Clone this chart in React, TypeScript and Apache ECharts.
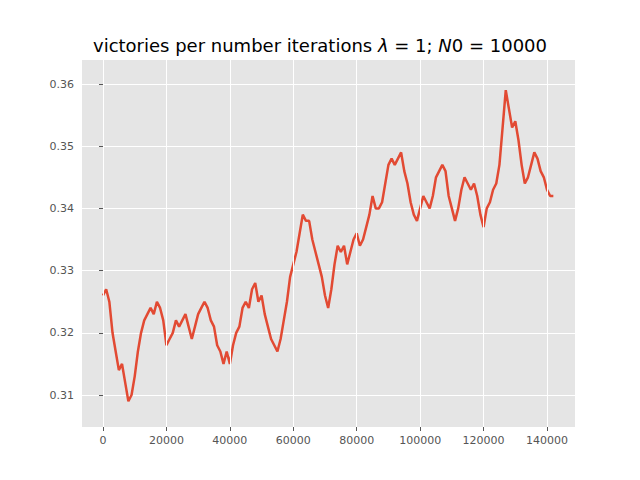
import React, { useEffect, useRef } from 'react';
import * as echarts from 'echarts';

// iterations (thousands) and victory rate
const iterK = Array.from({ length: 143 }, (_, i) => i);
const rate = [
  0.326, 0.327, 0.325, 0.320, 0.317, 0.314, 0.315, 0.312, 0.309, 0.310,
  0.313, 0.317, 0.320, 0.322, 0.323, 0.324, 0.323, 0.325, 0.324, 0.322,
  0.318, 0.319, 0.320, 0.322, 0.321, 0.322, 0.323, 0.321, 0.319, 0.321,
  0.323, 0.324, 0.325, 0.324, 0.322, 0.321, 0.318, 0.317, 0.315, 0.317,
  0.315, 0.318, 0.320, 0.321, 0.324, 0.325, 0.324, 0.327, 0.328, 0.325,
  0.326, 0.323, 0.321, 0.319, 0.318, 0.317, 0.319, 0.322, 0.325, 0.329,
  0.331, 0.333, 0.336, 0.339, 0.338, 0.338, 0.335, 0.333, 0.331, 0.329,
  0.326, 0.324, 0.327, 0.331, 0.334, 0.333, 0.334, 0.331, 0.333, 0.335,
  0.336, 0.334, 0.335, 0.337, 0.339, 0.342, 0.340, 0.340, 0.341, 0.344,
  0.347, 0.348, 0.347, 0.348, 0.349, 0.346, 0.344, 0.341, 0.339, 0.338,
  0.340, 0.342, 0.341, 0.340, 0.342, 0.345, 0.346, 0.347, 0.346, 0.342,
  0.340, 0.338, 0.340, 0.343, 0.345, 0.344, 0.343, 0.344, 0.342, 0.339,
  0.337, 0.340, 0.341, 0.343, 0.344, 0.347, 0.353, 0.359, 0.356, 0.353,
  0.354, 0.351, 0.347, 0.344, 0.345, 0.347, 0.349, 0.348, 0.346, 0.345,
  0.343, 0.342, 0.342,
];
const xTicks = [0, 20000, 40000, 60000, 80000, 100000, 120000, 140000];

const App: React.FC = () => {
  const chartRef = useRef<HTMLDivElement>(null);

  useEffect(() => {
    if (!chartRef.current) return;
    const chart = echarts.init(chartRef.current, undefined, { renderer: 'svg' });
    const font = 'DejaVu Sans';
    chart.setOption({
      animation: false,
      textStyle: { fontFamily: font },
      title: {
        text: 'victories per number iterations {i|λ} = 1; {i|N}0 = 10000',
        left: 'center',
        top: 31,
        textStyle: {
          fontFamily: font,
          fontSize: 18,
          fontWeight: 'normal',
          color: '#000',
          rich: { i: { fontFamily: font, fontSize: 18, fontStyle: 'italic', color: '#000' } },
        },
      },
      grid: {
        left: 82, right: 65, top: 59, bottom: 53,
        show: true, backgroundColor: '#E5E5E5', borderWidth: 0,
      },
      xAxis: {
        type: 'value',
        min: -6620,
        max: 148830,
        axisLine: { show: false },
        axisTick: { show: true, length: 4, customValues: xTicks, lineStyle: { color: '#555' } },
        axisLabel: {
          color: '#555', fontSize: 11, customValues: xTicks,
          formatter: (v: number) => String(v),
        },
        splitLine: { show: false },
      },
      yAxis: {
        type: 'value',
        min: 0.30486,
        max: 0.36402,
        axisLine: { show: false },
        axisTick: { show: true, length: 4, lineStyle: { color: '#555' } },
        axisLabel: {
          color: '#555', fontSize: 11,
          showMinLabel: false, showMaxLabel: false,
          formatter: (v: number) => v.toFixed(2),
        },
        splitLine: { lineStyle: { color: '#fff', width: 1 } },
      },
      series: [
        {
          type: 'line',
          data: [],
          markLine: {
            silent: true,
            symbol: 'none',
            label: { show: false },
            lineStyle: { color: '#fff', width: 1, type: 'solid' },
            data: xTicks.map((v) => ({ xAxis: v })),
          },
        },
        {
          type: 'line',
          data: iterK.map((k, i) => [k * 1000, rate[i]]),
          showSymbol: false,
          lineStyle: { color: '#E24A33', width: 2.5 },
        },
      ],
    });
    return () => chart.dispose();
  }, []);

  return (
    <div ref={chartRef} style={{ position: 'fixed', left: 0, top: 0, width: 640, height: 480, background: '#fff' }} />
  );
};

export default App;
